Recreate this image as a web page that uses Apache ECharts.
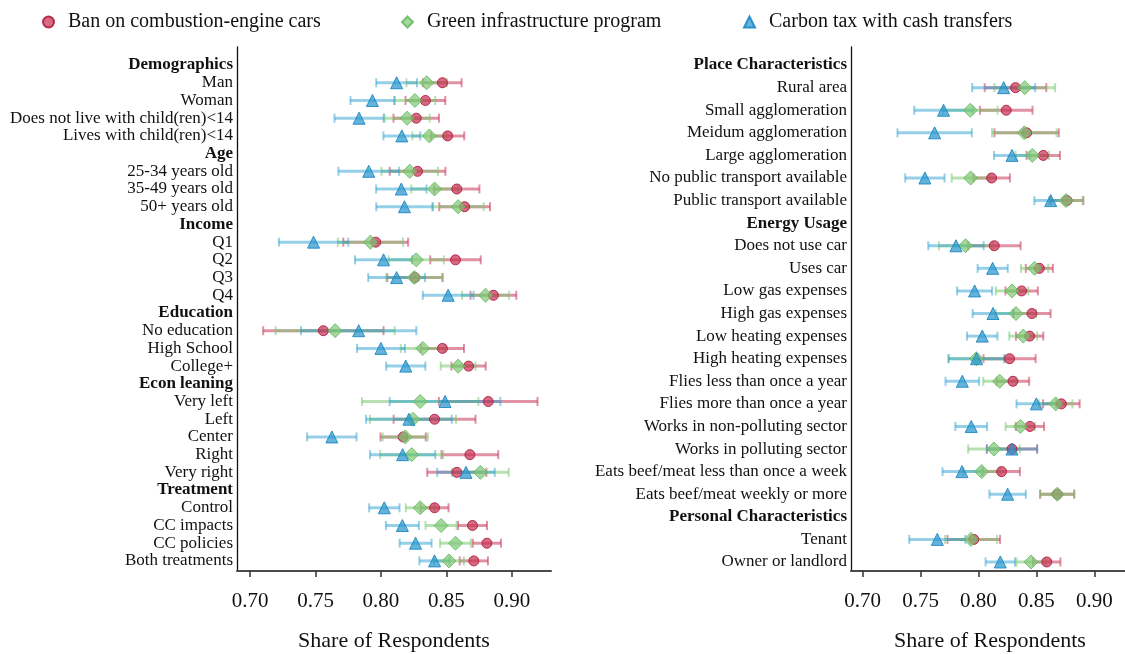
<!DOCTYPE html>
<html><head><meta charset="utf-8">
<script src="https://cdn.jsdelivr.net/npm/echarts@6/dist/echarts.min.js"></script>
<style>html,body{margin:0;padding:0;background:#fff}#c{width:1125px;height:654px}</style>
</head><body><div id="c"></div>
<script>
// ---------- DATA ----------
const seriesNames = ['Ban on combustion-engine cars', 'Green infrastructure program', 'Carbon tax with cash transfers'];

const leftCats = ['Demographics','Man','Woman','Does not live with child(ren)<14','Lives with child(ren)<14',
  'Age','25-34 years old','35-49 years old','50+ years old',
  'Income','Q1','Q2','Q3','Q4',
  'Education','No education','High School','College+',
  'Econ leaning','Very left','Left','Center','Right','Very right',
  'Treatment','Control','CC impacts','CC policies','Both treatments'];
const leftHeaders = ['Demographics','Age','Income','Education','Econ leaning','Treatment'];

const leftBan      = [null,0.847,0.834,0.827,0.851, null,0.828,0.858,0.864, null,0.796,0.857,0.826,0.886, null,0.756,0.847,0.867, null,0.882,0.841,0.817,0.868,0.858, null,0.841,0.870,0.881,0.871];
const leftBanErr   = [null,0.0147,0.0152,0.0174,0.0127, null,0.0213,0.0173,0.0194, null,0.0248,0.0193,0.0212,0.0175, null,0.046,0.0165,0.0131, null,0.0377,0.0313,0.0173,0.0217,0.0226, null,0.0107,0.0111,0.0108,0.0108];
const leftGreen    = [null,0.835,0.826,0.820,0.837, null,0.822,0.841,0.859, null,0.792,0.827,0.8255,0.880, null,0.765,0.832,0.859, null,0.830,0.8245,0.8186,0.8235,0.876, null,0.830,0.846,0.857,0.852];
const leftGreenErr = [null,0.0155,0.0155,0.0173,0.013, null,0.0216,0.0178,0.0196, null,0.0249,0.0211,0.0214,0.018, null,0.0455,0.0168,0.0133, null,0.0445,0.0329,0.0173,0.0241,0.0217, null,0.011,0.0119,0.0118,0.0114];
const leftTax      = [null,0.812,0.7935,0.7833,0.816, null,0.7907,0.8156,0.818, null,0.7485,0.802,0.812,0.8514, null,0.783,0.800,0.819, null,0.849,0.8214,0.7625,0.8166,0.865, null,0.8026,0.8164,0.8265,0.841];
const leftTaxErr   = [null,0.0156,0.0168,0.0188,0.0141, null,0.0232,0.0193,0.0216, null,0.0265,0.0218,0.0217,0.0194, null,0.0441,0.0183,0.015, null,0.0423,0.0328,0.0189,0.0249,0.022, null,0.0116,0.0126,0.0122,0.0116];

const rightCats = ['Place Characteristics','Rural area','Small agglomeration','Meidum agglomeration','Large agglomeration',
  'No public transport available','Public transport available',
  'Energy Usage','Does not use car','Uses car','Low gas expenses','High gas expenses','Low heating expenses',
  'High heating expenses','Flies less than once a year','Flies more than once a year',
  'Works in non-polluting sector','Works in polluting sector','Eats beef/meat less than once a week',
  'Eats beef/meat weekly or more','Personal Characteristics','Tenant','Owner or landlord'];
const rightHeaders = ['Place Characteristics','Energy Usage','Personal Characteristics'];

const rightBan      = [null,0.832,0.824,0.8416,0.856,0.8114,0.8765, null,0.8137,0.8526,0.8373,0.8462,0.8442,0.8269,0.8298,0.8716,0.8445,0.829,0.820,0.868, null,0.796,0.859];
const rightBanErr   = [null,0.0266,0.0227,0.0278,0.0144,0.0158,0.0141, null,0.0227,0.0117,0.014,0.0161,0.0118,0.0225,0.014,0.0158,0.0122,0.0217,0.0158,0.0147, null,0.0227,0.0118];
const rightGreen    = [null,0.840,0.793,0.8396,0.8465,0.7933,0.8756, null,0.7889,0.8485,0.829,0.8324,0.8387,0.7982,0.8183,0.8667,0.8362,0.8134,0.8028,0.8681, null,0.7936,0.8454];
const rightGreenErr = [null,0.0262,0.0236,0.0279,0.0144,0.0164,0.0144, null,0.023,0.0118,0.014,0.0173,0.0121,0.0242,0.0141,0.0144,0.0127,0.0223,0.0158,0.0147, null,0.0225,0.0125];
const rightTax      = [null,0.8218,0.7699,0.7622,0.829,0.7538,0.8624, null,0.7806,0.8123,0.7967,0.8126,0.8033,0.7984,0.7861,0.850,0.7938,0.829,0.7858,0.8252, null,0.7645,0.8189];
const rightTaxErr   = [null,0.0272,0.0253,0.0321,0.0155,0.017,0.0141, null,0.0239,0.013,0.0151,0.0176,0.0131,0.024,0.0145,0.0171,0.0137,0.0217,0.0168,0.0157, null,0.0242,0.0127];

const xTicks = [0.70, 0.75, 0.80, 0.85, 0.90];
const xTitle = 'Share of Respondents';

// ---------- STYLE ----------
const FONT = 'Liberation Serif';
const styles = [
  {symbol:'circle', size:10, fill:'rgba(200,50,85,0.72)', edge:'rgba(175,30,65,0.9)', bar:'rgba(200,55,90,0.55)'},
  {symbol:'diamond', size:14, fill:'rgba(125,200,115,0.7)', edge:'rgba(100,185,95,0.85)', bar:'rgba(125,200,115,0.55)'},
  {symbol:'triangle', size:12, fill:'rgba(40,150,205,0.72)', edge:'rgba(30,135,195,0.9)', bar:'rgba(45,160,210,0.5)'}
];
const legendLefts = [37, 396, 738];

function errRender(color){
  return function(params, api){
    const y = api.value(2);
    const a = api.coord([api.value(0), y]);
    const b = api.coord([api.value(1), y]);
    return {type:'group', children:[
      {type:'line', shape:{x1:a[0],y1:a[1],x2:b[0],y2:b[1]}, style:{stroke:color,lineWidth:3}},
      {type:'line', shape:{x1:a[0],y1:a[1]-4.5,x2:a[0],y2:a[1]+4.5}, style:{stroke:color,lineWidth:2}},
      {type:'line', shape:{x1:b[0],y1:b[1]-4.5,x2:b[0],y2:b[1]+4.5}, style:{stroke:color,lineWidth:2}}
    ]};
  };
}

function panelSeries(idx, groups){
  const out = [];
  groups.forEach((g, k) => {
    const errData = [];
    g.m.forEach((v, i) => { if (v != null) errData.push([v - g.e[i], v + g.e[i], i]); });
    out.push({type:'custom', name:seriesNames[k]+' CI', xAxisIndex:idx, yAxisIndex:idx,
      renderItem: errRender(styles[k].bar), encode:{x:[0,1], y:2}, data:errData, z:1+k, silent:true});
  });
  groups.forEach((g, k) => {
    const ptData = [];
    g.m.forEach((v, i) => { if (v != null) ptData.push([v, i]); });
    out.push({type:'scatter', name:seriesNames[k], xAxisIndex:idx, yAxisIndex:idx,
      symbol:styles[k].symbol, symbolSize:styles[k].size, data:ptData, z:10+k,
      itemStyle:{color:styles[k].fill, borderColor:styles[k].edge, borderWidth:1, opacity:1}});
  });
  return out;
}

function xAxisCfg(i){
  return {type:'value', gridIndex:i, min:0.69, max:0.93, position:'bottom',
    name:xTitle, nameLocation:'middle', nameGap:59,
    nameTextStyle:{fontFamily:FONT, fontSize:22, color:'#111'},
    axisLine:{onZero:false, lineStyle:{color:'#4a4a4a', width:2}},
    axisTick:{show:true, length:6, customValues:xTicks, lineStyle:{color:'#333', width:1.5}},
    axisLabel:{customValues:xTicks, margin:20, fontFamily:FONT, fontSize:21, color:'#111',
      formatter:v=>v.toFixed(2)},
    splitLine:{show:false}};
}
function yAxisCfg(i, cats, headers, min, max){
  return {type:'value', gridIndex:i, inverse:true, min:min, max:max,
    axisLine:{show:true, onZero:false, lineStyle:{color:'#111', width:1.3}},
    axisTick:{show:false},
    splitLine:{show:false},
    axisLabel:{customValues:cats.map((c,j)=>j), margin:4, fontFamily:FONT, fontSize:17, color:'#111',
      formatter:v=>{const c = cats[Math.round(v)]; if (c==null) return ''; return headers.includes(c)?'{b|'+c+'}':c;},
      rich:{b:{fontFamily:FONT, fontSize:17, fontWeight:'bold', color:'#111'}}}};
}

const option = {
  animation:false,
  backgroundColor:'#fff',
  legend: seriesNames.map((n, k) => ({top:7, left:legendLefts[k], itemWidth:11, itemHeight:11,
    data:[n], textStyle:{fontFamily:FONT, fontSize:20, color:'#111', padding:[0,0,0,9]}})),
  grid:[
    {left:237, top:47, width:314, height:524, containLabel:false, outerBoundsMode:'none'},
    {left:851, top:47, width:278, height:524, containLabel:false, outerBoundsMode:'none'}
  ],
  xAxis:[xAxisCfg(0), xAxisCfg(1)],
  yAxis:[yAxisCfg(0, leftCats, leftHeaders, -1.02, 28.57), yAxisCfg(1, rightCats, rightHeaders, -0.8, 22.4)],
  series:[].concat(
    panelSeries(0, [{m:leftBan,e:leftBanErr},{m:leftGreen,e:leftGreenErr},{m:leftTax,e:leftTaxErr}]),
    panelSeries(1, [{m:rightBan,e:rightBanErr},{m:rightGreen,e:rightGreenErr},{m:rightTax,e:rightTaxErr}])
  )
};
const chart = echarts.init(document.getElementById('c'), null, {renderer:'canvas'});
chart.setOption(option);
</script></body></html>
